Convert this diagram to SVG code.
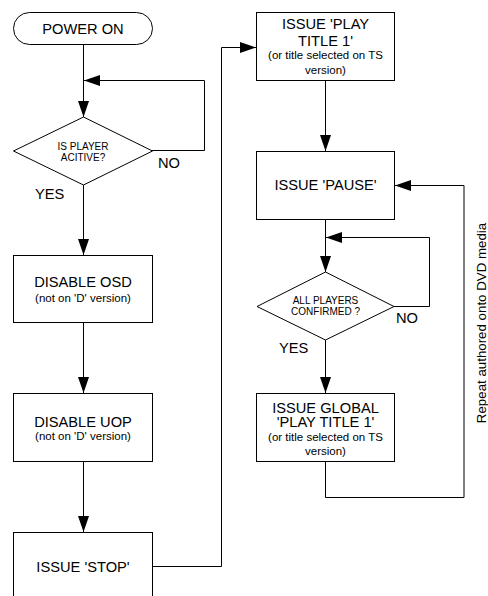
<svg xmlns="http://www.w3.org/2000/svg" width="488" height="596" viewBox="0 0 488 596">
<defs>
<style>
.box{fill:#fff;stroke:#000;stroke-width:1}
.ln{fill:none;stroke:#000;stroke-width:1}
.t{font-family:"Liberation Sans",Arial,sans-serif;font-size:14.67px;fill:#000;text-anchor:middle}
.s{font-family:"Liberation Sans",Arial,sans-serif;font-size:11.5px;fill:#000;text-anchor:middle}
.d{font-family:"Liberation Sans",Arial,sans-serif;font-size:10px;fill:#000;text-anchor:middle}
.l{font-family:"Liberation Sans",Arial,sans-serif;font-size:14.67px;fill:#000}
</style>
<marker id="ah" markerUnits="userSpaceOnUse" markerWidth="16" markerHeight="11" refX="16" refY="5.5" orient="auto" viewBox="0 0 16 11">
<path d="M0,0 L16,5.5 L0,11 z" fill="#000"/>
</marker>
</defs>
<rect width="488" height="596" fill="#fff"/>
<g id="connectors">
<path class="ln" d="M83.5,44 V117" marker-end="url(#ah)"/>
<path class="ln" d="M152,150.5 H204.5 V80.5 H84" marker-end="url(#ah)"/>
<path class="ln" d="M83.5,185 V255" marker-end="url(#ah)"/>
<path class="ln" d="M83.5,323 V393" marker-end="url(#ah)"/>
<path class="ln" d="M83.5,462 V532" marker-end="url(#ah)"/>
<path class="ln" d="M152.5,566.5 H221.5 V47.5 H256" marker-end="url(#ah)"/>
<path class="ln" d="M325.5,81 V151" marker-end="url(#ah)"/>
<path class="ln" d="M325.5,220 V272" marker-end="url(#ah)"/>
<path class="ln" d="M394,306.5 H429.5 V237.5 H326" marker-end="url(#ah)"/>
<path class="ln" d="M325.5,340 V393" marker-end="url(#ah)"/>
<path class="ln" d="M325.5,462 V497.5 H464 V185.5 H395" marker-end="url(#ah)"/>
</g>
<g id="power-on">
<rect class="box" x="13.5" y="12.5" width="139" height="32" rx="16" ry="16"/>
<text class="t" x="83" y="34">POWER ON</text>
</g>
<g id="is-player-active">
<polygon class="box" points="83.5,117 152.5,151 83.5,185 13.5,151"/>
<text class="d" x="83" y="149.5">IS PLAYER</text>
<text class="d" x="83" y="160.5">ACITIVE?</text>
<text class="l" x="158" y="167.5">NO</text>
<text class="l" x="35" y="199">YES</text>
</g>
<g id="disable-osd">
<rect class="box" x="13.5" y="255.5" width="139" height="67"/>
<text class="t" x="83" y="287">DISABLE OSD</text>
<text class="s" x="83" y="302">(not on 'D' version)</text>
</g>
<g id="disable-uop">
<rect class="box" x="13.5" y="393.5" width="139" height="68"/>
<text class="t" x="83" y="427">DISABLE UOP</text>
<text class="s" x="83" y="440">(not on 'D' version)</text>
</g>
<g id="issue-stop">
<rect class="box" x="13.5" y="532.5" width="139" height="70"/>
<text class="t" x="83" y="572">ISSUE 'STOP'</text>
</g>
<g id="issue-play-title">
<rect class="box" x="256.5" y="12.5" width="138" height="68"/>
<text class="t" x="325.5" y="29">ISSUE 'PLAY</text>
<text class="t" x="325.5" y="45.5">TITLE 1'</text>
<text class="s" x="325.5" y="59">(or title selected on TS</text>
<text class="s" x="325.5" y="74">version)</text>
</g>
<g id="issue-pause">
<rect class="box" x="256.5" y="151.5" width="138" height="68"/>
<text class="t" x="325.5" y="190">ISSUE 'PAUSE'</text>
</g>
<g id="all-players-confirmed">
<polygon class="box" points="325.5,272 394,306.5 325.5,340 257,306.5"/>
<text class="d" x="325.5" y="303.5">ALL PLAYERS</text>
<text class="d" x="325.5" y="314.5">CONFIRMED ?</text>
<text class="l" x="396" y="322.7">NO</text>
<text class="l" x="279" y="352.5">YES</text>
</g>
<g id="issue-global-play">
<rect class="box" x="256.5" y="393.5" width="138" height="68"/>
<text class="t" x="325.5" y="412.5">ISSUE GLOBAL</text>
<text class="t" x="325.5" y="427">'PLAY TITLE 1'</text>
<text class="s" x="325.5" y="441">(or title selected on TS</text>
<text class="s" x="325.5" y="455">version)</text>
</g>
<g id="repeat-label">
<text class="t" style="font-size:13.3px" transform="translate(485.5,323) rotate(-90)">Repeat authored onto DVD media</text>
</g>
</svg>
